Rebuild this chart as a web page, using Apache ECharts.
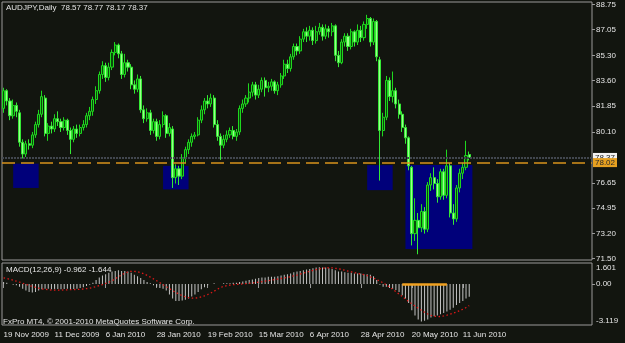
<!DOCTYPE html>
<html><head><meta charset="utf-8">
<script src="https://cdn.jsdelivr.net/npm/echarts@6/dist/echarts.min.js"></script>
<style>html,body{margin:0;padding:0;background:#12150f;}#c{width:625px;height:343px;}</style>
</head><body><div id="c"></div>
<script>
// ---------- DATA ----------
const symbolTitle = 'AUDJPY,Daily  78.57 78.77 78.17 78.37';
const macdTitle = 'MACD(12,26,9) -0.962 -1.644';
const footerText = 'FxPro MT4, \u00a9 2001-2010 MetaQuotes Software Corp.';
const dateTicks = ['19 Nov 2009','11 Dec 2009','6 Jan 2010','28 Jan 2010','19 Feb 2010','15 Mar 2010','6 Apr 2010','28 Apr 2010','20 May 2010','11 Jun 2010'];
const barsPerTick = 16;
const totalSlots = 185;
const priceTicks = [88.75, 87.05, 85.30, 83.60, 81.85, 80.10, 76.65, 74.95, 73.20, 71.50];
const macdTicks = [1.601, 0, -3.119];
const bidPrice = 78.37;
const levelPrice = 78.02;
// [open, close, low, high]
const ohlc = [
[81.7,82.9,81.4,83.1],[82.9,82.2,81.9,83.0],[82.2,81.2,80.9,82.4],[81.2,81.9,81.0,82.3],[81.9,81.5,81.1,82.1],
[81.4,79.4,79.1,81.6],[79.4,78.6,78.3,79.6],[78.6,79.3,78.4,79.5],[79.3,79.2,78.9,79.6],[79.2,79.9,79.0,80.1],
[79.9,80.6,79.7,80.8],[80.6,81.3,80.4,81.6],[81.3,82.5,81.1,82.9],[82.4,80.0,79.8,82.6],[80.0,80.5,79.5,80.7],
[80.5,80.3,80.0,80.8],[80.3,81.0,80.1,81.3],[81.0,80.8,80.5,81.5],[80.8,80.4,80.1,81.0],[80.4,80.9,80.2,81.1],
[80.9,80.2,79.9,81.0],[80.2,79.6,78.6,80.4],[79.6,80.3,79.4,80.5],[80.3,80.0,79.7,80.6],[80.0,80.4,79.8,80.6],
[80.4,80.6,80.2,80.9],[80.6,81.2,80.4,81.4],[81.2,81.5,80.9,81.8],[81.5,82.3,81.2,82.5],[82.3,82.9,82.0,83.2],
[82.9,84.0,82.7,84.2],[84.0,84.6,83.7,84.9],[84.6,83.8,83.5,84.8],[83.8,84.5,83.6,84.8],[84.5,85.5,84.3,85.7],
[85.5,86.0,85.3,86.2],[86.0,85.4,85.1,86.1],[85.4,84.0,83.7,85.6],[84.0,84.8,83.8,85.4],[84.8,84.5,84.2,85.0],
[84.5,83.3,83.0,84.7],[83.3,83.0,82.7,83.6],[83.0,83.7,82.8,84.0],[83.7,81.6,81.4,83.9],[81.6,81.0,80.7,81.9],
[81.0,81.4,80.8,81.7],[81.4,80.2,79.9,81.6],[80.2,80.8,80.0,81.0],[80.8,79.8,79.5,81.0],[79.8,80.6,79.6,80.9],
[80.6,81.2,80.4,81.5],[81.2,80.0,79.7,81.3],[80.0,80.4,79.8,80.7],[80.3,77.0,76.3,80.5],[77.0,77.6,76.6,77.9],
[77.6,77.1,76.5,77.8],[77.1,78.3,76.9,78.6],[78.3,78.9,78.0,79.1],[78.9,79.4,78.6,79.6],[79.4,79.8,79.1,80.0],
[79.8,79.9,79.6,80.1],[79.9,80.9,79.8,81.1],[80.9,81.6,80.7,81.9],[81.6,82.2,81.3,82.4],[82.2,82.0,81.7,82.6],
[82.0,82.4,81.8,82.7],[82.4,80.6,80.4,82.6],[80.6,79.8,79.5,80.9],[79.8,79.2,78.2,80.0],[79.2,79.6,79.0,79.9],
[79.6,79.9,79.4,80.2],[79.9,80.2,79.7,80.4],[80.2,79.8,79.6,80.5],[79.8,80.1,79.5,80.3],[80.1,81.7,79.9,81.9],
[81.7,82.0,81.4,82.3],[82.0,82.4,81.8,82.6],[82.4,82.8,82.1,83.4],[82.8,83.3,82.5,83.5],[83.3,82.6,82.3,83.5],
[82.6,83.0,82.4,83.3],[83.0,83.6,82.8,83.8],[83.6,83.1,82.5,83.8],[83.1,83.2,82.8,83.5],[83.2,83.5,82.9,83.7],
[83.5,82.9,82.7,83.6],[82.9,83.3,82.6,83.5],[83.3,83.9,83.1,84.1],[83.9,84.7,83.7,85.0],[84.7,84.4,84.1,85.0],
[84.4,85.2,84.2,85.4],[85.2,85.9,85.0,86.1],[85.9,85.6,85.3,86.1],[85.6,86.4,85.4,86.6],[86.4,86.9,86.2,87.1],
[86.9,86.6,86.2,87.2],[86.6,87.0,86.3,87.3],[87.0,86.3,86.0,87.2],[86.3,86.9,86.1,87.3],[86.9,87.2,86.7,87.5],
[87.2,86.6,86.3,87.4],[86.6,87.1,86.4,87.4],[87.1,86.9,86.5,87.3],[86.9,87.3,86.6,87.5],[87.3,85.3,84.9,87.4],
[85.3,84.8,84.5,85.6],[84.8,86.2,84.7,86.4],[86.2,86.6,85.9,86.8],[86.6,85.9,85.6,86.8],[85.9,86.9,85.7,87.1],
[86.9,86.2,85.9,87.0],[86.2,87.0,86.0,87.4],[87.0,86.5,86.2,87.3],[86.5,87.4,86.3,87.6],[87.4,87.8,87.1,88.05],
[87.8,86.2,85.9,87.9],[86.2,87.6,86.0,87.8],[87.6,85.2,84.9,87.7],[85.0,80.2,76.8,85.2],[80.2,81.1,79.8,81.4],
[81.1,83.6,80.9,83.9],[83.6,82.5,82.2,83.8],[82.5,82.9,82.1,84.2],[82.9,82.0,81.7,83.1],[82.0,81.3,81.0,82.3],
[81.3,80.4,80.1,81.5],[80.4,79.7,79.3,80.6],[79.7,77.8,77.5,79.8],[77.7,73.2,72.4,77.8],[73.2,74.1,72.7,75.6],
[74.1,73.6,71.8,74.6],[73.6,74.7,73.3,75.2],[74.7,73.5,73.2,75.0],[73.5,76.5,73.3,76.7],[76.5,77.0,76.1,77.3],
[77.0,76.6,76.2,77.7],[76.6,75.7,75.3,76.9],[75.7,77.4,75.5,77.6],[77.4,75.8,75.5,77.6],[75.8,77.8,75.6,78.9],
[77.8,74.6,74.3,78.0],[74.6,74.2,73.8,75.2],[74.2,76.3,74.0,76.5],[76.3,77.3,76.0,77.6],[77.3,77.7,76.9,78.0],
[77.7,78.5,77.5,79.5],[78.57,78.37,78.17,78.77]
];
const macdMain = [
0.15,0.1,0.0,-0.05,-0.1,-0.2,-0.35,-0.5,-0.6,-0.65,
-0.6,-0.5,-0.4,-0.35,-0.35,-0.4,-0.4,-0.38,-0.4,-0.38,
-0.35,-0.4,-0.38,-0.35,-0.3,-0.25,-0.15,-0.05,0.1,0.3,
0.5,0.65,0.75,0.85,0.95,1.0,1.05,1.0,1.0,0.95,
0.85,0.7,0.6,0.45,0.3,0.15,0.05,-0.1,-0.2,-0.3,
-0.35,-0.5,-0.8,-1.1,-1.3,-1.3,-1.25,-1.2,-1.1,-0.95,
-0.8,-0.6,-0.4,-0.25,-0.1,0.0,0.05,0.0,0.0,0.05,
0.05,0.05,0.1,0.1,0.15,0.2,0.25,0.3,0.35,0.4,
0.45,0.5,0.5,0.55,0.55,0.55,0.6,0.65,0.7,0.75,
0.8,0.9,0.95,1.0,1.05,1.1,1.15,1.2,1.25,1.28,
1.25,1.25,1.2,1.15,1.05,0.95,0.95,0.9,0.85,0.85,
0.8,0.8,0.8,0.75,0.75,0.7,0.6,0.3,-0.05,-0.2,
-0.2,-0.3,-0.35,-0.45,-0.6,-0.85,-1.1,-1.45,-2.0,-2.4,
-2.7,-2.86,-2.8,-2.7,-2.55,-2.45,-2.4,-2.3,-2.2,-2.1,
-1.95,-1.8,-1.6,-1.45,-1.3,-1.1,-0.962
];
const macdSignal = [
0.47,0.42,0.36,0.3,0.22,0.14,0.06,-0.02,-0.1,-0.18,
-0.25,-0.31,-0.36,-0.4,-0.44,-0.46,-0.47,-0.47,-0.46,-0.45,
-0.44,-0.43,-0.42,-0.41,-0.4,-0.38,-0.35,-0.31,-0.26,-0.2,
-0.12,-0.04,0.05,0.15,0.25,0.4,0.55,0.7,0.82,0.92,
0.97,0.97,0.93,0.86,0.77,0.66,0.53,0.39,0.25,0.1,
-0.05,-0.2,-0.35,-0.5,-0.64,-0.77,-0.88,-0.97,-1.03,-1.07,
-1.07,-1.04,-0.98,-0.9,-0.8,-0.68,-0.55,-0.4,-0.27,-0.18,
-0.12,-0.08,-0.05,-0.03,-0.01,0.01,0.03,0.05,0.08,0.11,
0.14,0.18,0.22,0.26,0.3,0.34,0.38,0.42,0.46,0.51,
0.56,0.62,0.68,0.75,0.83,0.9,0.97,1.04,1.1,1.15,
1.2,1.23,1.24,1.23,1.2,1.16,1.11,1.05,0.99,0.93,
0.87,0.81,0.76,0.71,0.64,0.55,0.45,0.34,0.22,0.09,
-0.05,-0.22,-0.4,-0.58,-0.76,-0.95,-1.14,-1.33,-1.5,-1.67,
-1.84,-2.0,-2.15,-2.28,-2.38,-2.45,-2.48,-2.47,-2.43,-2.37,
-2.3,-2.22,-2.13,-2.03,-1.92,-1.79,-1.644
];
// rectangles: [fromBar, toBar, topPrice, bottomPrice]
const zones = [[3,11,77.95,76.3],[50,58,77.8,76.2],[114,122,77.85,76.15],[126,147,77.85,72.15]];
// MACD zero-level trend segment: [fromBar, toBar, value]
const macdSegment = [125,139,0];

// ---------- CHART ----------
const FONT = 'Liberation Sans';
const TXT = '#e4e4e4';
const GRIDC = '#9a9a9a';
const cats = Array.from({length: totalSlots}, (_, i) => String(i));
const tickShown = (i) => i % barsPerTick === 0 && (i / barsPerTick) < dateTicks.length;
const titleStyle = {color: TXT, fontSize: 8, fontWeight: 'normal', fontFamily: FONT};

const chart = echarts.init(document.getElementById('c'), null, {renderer: 'canvas'});
chart.setOption({
  animation: false,
  backgroundColor: '#12150f',
  title: [
    {text: symbolTitle, left: 6, top: 4, padding: 0, textStyle: titleStyle},
    {text: macdTitle, left: 6, top: 266, padding: 0, textStyle: titleStyle},
    {text: footerText, left: 3, top: 318, padding: 0, textStyle: titleStyle}
  ],
  grid: [
    {left: 2, right: 33, top: 2, height: 258, show: true, borderColor: GRIDC, borderWidth: 1},
    {left: 2, right: 33, top: 263, height: 62, show: true, borderColor: GRIDC, borderWidth: 1}
  ],
  xAxis: [
    {type: 'category', gridIndex: 0, data: cats, boundaryGap: true,
     axisLine: {show: false}, axisTick: {show: false}, axisLabel: {show: false}, splitLine: {show: false}},
    {type: 'category', gridIndex: 1, data: cats, boundaryGap: true,
     axisLine: {show: false},
     axisTick: {show: true, alignWithLabel: true, interval: (i) => tickShown(i), length: 4, lineStyle: {color: GRIDC}},
     axisLabel: {show: true, interval: (i) => tickShown(i), formatter: (v, i) => dateTicks[i / barsPerTick] || '',
       align: 'left', margin: 6, color: TXT, fontSize: 8, fontFamily: FONT},
     splitLine: {show: false}}
  ],
  yAxis: [
    {type: 'value', gridIndex: 0, position: 'right', min: 71.41, max: 88.92, scale: true,
     axisLine: {show: false}, splitLine: {show: false},
     axisTick: {show: true, customValues: priceTicks, length: 3, lineStyle: {color: GRIDC}},
     axisLabel: {show: true, customValues: priceTicks, formatter: (v) => v.toFixed(2), margin: 4, color: TXT, fontSize: 8, fontFamily: FONT}},
    {type: 'value', gridIndex: 1, position: 'right', min: macdTicks[2], max: macdTicks[0],
     axisLine: {show: false}, splitLine: {show: false},
     axisTick: {show: true, customValues: [0], length: 3, lineStyle: {color: GRIDC}},
     axisLabel: {show: true, customValues: macdTicks, margin: 4, color: TXT, fontSize: 8, fontFamily: FONT,
       formatter: (v) => v === macdTicks[0] ? '{t|' + v.toFixed(3) + '}' : (v === macdTicks[2] ? '{b|' + v.toFixed(3) + '}' : v.toFixed(2)),
       rich: {t: {padding: [9, 0, 0, 0], color: TXT, fontSize: 8, fontFamily: FONT}, b: {padding: [0, 0, 8, 0], color: TXT, fontSize: 8, fontFamily: FONT}}}}
  ],
  series: [
    {type: 'line', xAxisIndex: 0, yAxisIndex: 0, data: [], z: 1, silent: true,
     markArea: {silent: true, itemStyle: {color: '#00007a', opacity: 1},
       data: zones.map(z => [{xAxis: z[0], yAxis: z[2]}, {xAxis: z[1], yAxis: z[3]}])}},
    {type: 'candlestick', xAxisIndex: 0, yAxisIndex: 0, z: 3, data: ohlc, barWidth: 2.6,
     itemStyle: {color: '#0b480b', color0: '#9cff8c', borderColor: '#1ed81e', borderColor0: '#34e834', borderWidth: 1},
     markLine: {silent: true, symbol: 'none', animation: false,
       data: [
         {yAxis: bidPrice, lineStyle: {color: '#42474f', type: [2, 1], width: 2},
          label: {show: true, position: 'end', distance: 1, formatter: bidPrice.toFixed(2), backgroundColor: '#f2f2f2', color: '#1a1a1a', padding: [1, 2, 0, 2], fontSize: 8, fontFamily: FONT}},
         {yAxis: levelPrice, lineStyle: {color: '#d8921c', type: [13, 6], width: 1.5},
          label: {show: true, position: 'end', distance: 1, formatter: levelPrice.toFixed(2), backgroundColor: '#e6a020', color: '#2a2a2a', padding: [1, 2, 0, 2], fontSize: 8, fontFamily: FONT}}
       ]}},
    {type: 'bar', xAxisIndex: 1, yAxisIndex: 1, data: macdMain, barWidth: 1, itemStyle: {color: '#c4c4c4'}, z: 2,
     markLine: {silent: true, symbol: 'none', label: {show: false},
       lineStyle: {color: '#f0a020', type: 'solid', width: 2.5},
       data: [[{coord: [macdSegment[0], macdSegment[2]]}, {coord: [macdSegment[1], macdSegment[2]]}]]}},
    {type: 'line', xAxisIndex: 1, yAxisIndex: 1, data: macdSignal, symbol: 'none', z: 3,
     lineStyle: {color: '#e01818', type: [1.5, 2.5], width: 1.3}}
  ]
});
</script>
</body></html>
